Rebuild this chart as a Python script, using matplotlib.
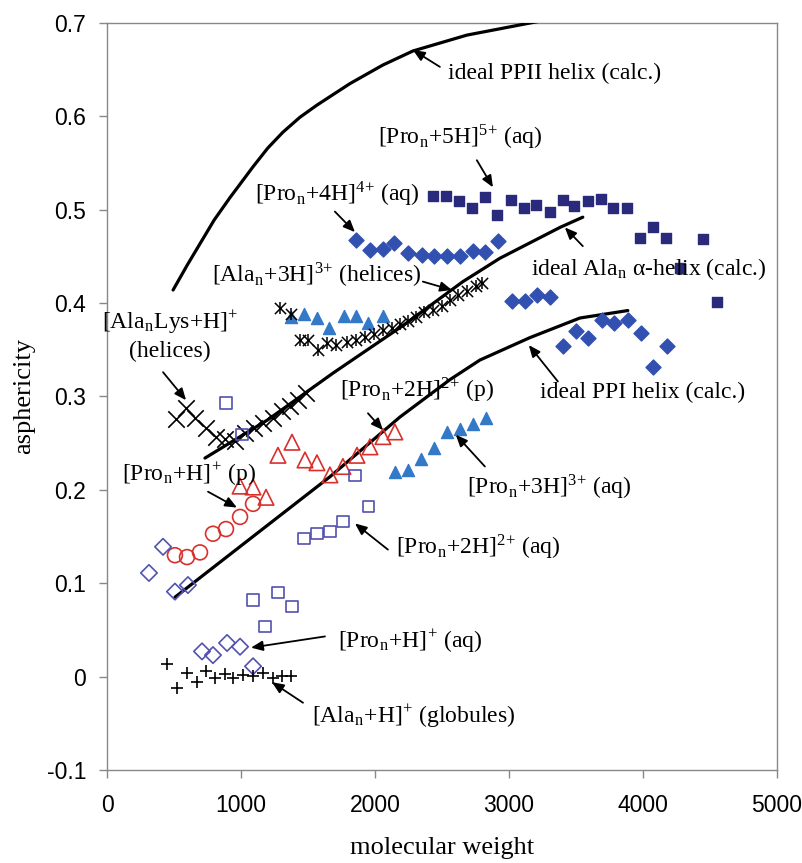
import numpy as np
import matplotlib.pyplot as plt

plt.rcParams['font.family'] = ['Liberation Sans', 'DejaVu Sans']
plt.rcParams['mathtext.fontset'] = 'stix'

# ---------------- data (molecular weight, asphericity)
ppii_x = [493, 600, 700, 800, 918, 1090, 1200, 1313, 1440, 1567, 1813, 2060, 2284, 2687, 3269, 3600]
ppii_y = [0.414, 0.441, 0.465, 0.489, 0.513, 0.546, 0.566, 0.583, 0.599, 0.612, 0.635, 0.655, 0.670,
          0.687, 0.703, 0.711]

alpha_x = [731, 1200, 1687, 2200, 2657, 2933, 3381, 3552]
alpha_y = [0.234, 0.275, 0.325, 0.375, 0.423, 0.448, 0.481, 0.492]

ppi_x = [507, 1000, 1664, 2187, 2560, 2784, 3157, 3530, 3888]
ppi_y = [0.085, 0.140, 0.214, 0.278, 0.318, 0.339, 0.363, 0.384, 0.392]

pro5_x = [2433, 2530, 2627, 2724, 2821, 2910, 3015, 3112, 3201, 3306, 3403, 3485,
          3590, 3687, 3776, 3881, 3978, 4075, 4172, 4276, 4448, 4552]
pro5_y = [0.515, 0.515, 0.509, 0.502, 0.514, 0.494, 0.510, 0.502, 0.505, 0.498, 0.510, 0.504,
          0.509, 0.512, 0.502, 0.502, 0.470, 0.482, 0.470, 0.438, 0.469, 0.401]

pro4_x = [1858, 1963, 2060, 2142, 2246, 2351, 2440, 2537, 2634, 2731, 2821, 2918,
          3022, 3119, 3209, 3306, 3403, 3500, 3590, 3694, 3784, 3888, 3985, 4075, 4179]
pro4_y = [0.468, 0.457, 0.458, 0.464, 0.454, 0.451, 0.450, 0.450, 0.450, 0.456, 0.455, 0.466,
          0.402, 0.402, 0.409, 0.406, 0.354, 0.370, 0.363, 0.382, 0.379, 0.382, 0.368, 0.332, 0.354]

pro3_x = [1373, 1470, 1567, 1657, 1769, 1858, 1948, 2060,
          2149, 2246, 2343, 2440, 2537, 2634, 2731, 2828]
pro3_y = [0.385, 0.388, 0.384, 0.373, 0.386, 0.386, 0.379, 0.386,
          0.219, 0.221, 0.233, 0.245, 0.262, 0.265, 0.271, 0.277]

ala3_x = [1291, 1373, 1440, 1500, 1575, 1642, 1709, 1791, 1858, 1925, 1993, 2060,
          2127, 2187, 2246, 2306, 2366, 2433, 2500, 2560, 2619, 2687, 2754, 2799]
ala3_y = [0.395, 0.388, 0.361, 0.361, 0.350, 0.357, 0.355, 0.358, 0.361, 0.364, 0.367, 0.371,
          0.373, 0.378, 0.381, 0.385, 0.390, 0.393, 0.397, 0.403, 0.409, 0.413, 0.418, 0.422]

alalys_x = [515, 590, 657, 739, 813, 881, 955, 1030, 1097, 1164, 1239, 1306, 1366, 1425, 1485]
alalys_y = [0.276, 0.288, 0.277, 0.266, 0.257, 0.254, 0.252, 0.261, 0.266, 0.272, 0.277,
            0.284, 0.290, 0.296, 0.304]

pro2p_x = [993, 1090, 1187, 1276, 1381, 1478, 1567, 1664, 1761, 1866, 1963, 2060, 2149]
pro2p_y = [0.204, 0.203, 0.192, 0.237, 0.251, 0.232, 0.229, 0.216, 0.225, 0.237, 0.246, 0.257, 0.262]

pro1p_x = [507, 597, 694, 791, 888, 993, 1090]
pro1p_y = [0.130, 0.128, 0.133, 0.153, 0.158, 0.171, 0.185]

pro2aq_x = [888, 1007, 1470, 1567, 1664, 1761, 1851, 1955, 1090, 1276, 1381, 1179]
pro2aq_y = [0.293, 0.259, 0.148, 0.153, 0.155, 0.166, 0.215, 0.182, 0.082, 0.090, 0.075, 0.054]

pro1aq_x = [313, 418, 507, 604, 709, 791, 896, 993, 1090]
pro1aq_y = [0.111, 0.139, 0.091, 0.098, 0.027, 0.023, 0.036, 0.032, 0.011]

alah_x = [448, 522, 597, 672, 739, 806, 881, 940, 1015, 1090, 1164, 1239, 1306, 1373]
alah_y = [0.014, -0.012, 0.004, -0.006, 0.006, -0.002, 0.003, -0.002, 0.002, 0.001, 0.004,
          -0.002, 0.001, 0.001]

yticks = [-0.1, 0, 0.1, 0.2, 0.3, 0.4, 0.5, 0.6, 0.7]
ytick_labels = ['-0.1', '0', '0.1', '0.2', '0.3', '0.4', '0.5', '0.6', '0.7']
xticks = [0, 1000, 2000, 3000, 4000, 5000]

# ---------------- figure
fig = plt.figure(figsize=(8.03, 8.63), dpi=100)
ax = fig.add_axes([0.1333, 0.1078, 0.834, 0.8656])

# calculated curves
for cx, cy in [(ppii_x, ppii_y), (alpha_x, alpha_y), (ppi_x, ppi_y)]:
    ax.plot(cx, cy, color='black', lw=2.3, zorder=3, solid_capstyle='round',
            solid_joinstyle='round')

navy = '#2a2a7c'
blue = '#3150b0'
lblue = '#3478c8'
red = '#d8302c'
violet = '#5252b0'

ax.scatter(pro5_x, pro5_y, marker='s', s=45, color=navy, zorder=4)
ax.scatter(pro4_x, pro4_y, marker='D', s=58, color=blue, zorder=4)
ax.scatter(pro3_x, pro3_y, marker='^', s=75, color=lblue, zorder=4)
ax.scatter(ala3_x, ala3_y, marker='x', s=65, color='black', lw=1.1, zorder=4)
ax.scatter(ala3_x, ala3_y, marker='|', s=85, color='black', lw=1.1, zorder=4)
ax.scatter(alalys_x, alalys_y, marker='x', s=140, color='black', lw=1.2, zorder=4)
ax.scatter(pro2p_x, pro2p_y, marker='^', s=125, facecolors='none', edgecolors=red, lw=1.2, zorder=4)
ax.scatter(pro1p_x, pro1p_y, marker='o', s=115, facecolors='none', edgecolors=red, lw=1.2, zorder=4)
ax.scatter(pro2aq_x, pro2aq_y, marker='s', s=65, facecolors='none', edgecolors=violet, lw=1.2, zorder=4)
ax.scatter(pro1aq_x, pro1aq_y, marker='D', s=70, facecolors='none', edgecolors=violet, lw=1.2, zorder=4)
ax.scatter(alah_x, alah_y, marker='+', s=85, color='black', lw=1.2, zorder=4)

# ---------------- labels with arrows: (text, text pos, arrow tail, arrow head)
R = r'\mathregular'
notes = [
    ('ideal PPII helix (calc.)', (2545, 0.646), (2485, 0.653), (2284, 0.671)),
    (r'[Pro$_{%s{n}}$+5H]$^{%s{5{+}}}$ (aq)' % (R, R), (2022, 0.578), (2761, 0.553), (2881, 0.524)),
    (r'[Pro$_{%s{n}}$+4H]$^{%s{4{+}}}$ (aq)' % (R, R), (1104, 0.516), (1701, 0.498), (1851, 0.476)),
    (r'ideal Ala$_{%s{n}}$ α-helix (calc.)' % R, (3164, 0.436), (3552, 0.461), (3418, 0.481)),
    (r'[Ala$_{%s{n}}$+3H]$^{%s{3{+}}}$ (helices)' % (R, R), (784, 0.430), (2358, 0.423), (2575, 0.414)),
    (r'[Pro$_{%s{n}}$+2H]$^{%s{2{+}}}$ (p)' % (R, R), (1739, 0.307), (1948, 0.282), (2060, 0.264)),
    ('ideal PPI helix (calc.)', (3231, 0.304), (3366, 0.316), (3149, 0.355)),
    (r'[Pro$_{%s{n}}$+H]$^{%s{{+}}}$ (p)' % (R, R), (112, 0.217), (754, 0.198), (970, 0.181)),
    (r'[Pro$_{%s{n}}$+3H]$^{%s{3{+}}}$ (aq)' % (R, R), (2687, 0.203), (2821, 0.225), (2604, 0.259)),
    (r'[Pro$_{%s{n}}$+2H]$^{%s{2{+}}}$ (aq)' % (R, R), (2157, 0.138), (2097, 0.136), (1851, 0.164)),
    (r'[Pro$_{%s{n}}$+H]$^{%s{{+}}}$ (aq)' % (R, R), (1724, 0.038), (1627, 0.043), (1075, 0.031)),
    (r'[Ala$_{%s{n}}$+H]$^{%s{{+}}}$ (globules)' % (R, R), (1530, -0.042), (1463, -0.028), (1231, -0.006)),
]
for txt, tpos, tail, head in notes:
    ax.text(tpos[0], tpos[1], txt, family='Liberation Serif', fontsize=17,
            ha='left', va='center', zorder=5)
    ax.annotate('', xy=head, xytext=tail,
                arrowprops=dict(arrowstyle='-|>,head_length=0.7,head_width=0.3',
                                color='black', lw=1.3, shrinkA=0, shrinkB=0), zorder=5)

ax.text(470, 0.366, '[Ala$_{%s{n}}$Lys+H]$^{%s{{+}}}$\n(helices)' % (R, R),
        family='Liberation Serif', fontsize=17, ha='center', va='center',
        linespacing=1.3, zorder=5)
ax.annotate('', xy=(590, 0.296), xytext=(418, 0.326),
            arrowprops=dict(arrowstyle='-|>,head_length=0.7,head_width=0.3',
                            color='black', lw=1.3, shrinkA=0, shrinkB=0), zorder=5)

# ---------------- axes styling
ax.set_xlim(0, 5000)
ax.set_ylim(-0.1, 0.7)
ax.set_xticks(xticks)
ax.set_xticklabels([str(v) for v in xticks])
ax.set_yticks(yticks)
ax.set_yticklabels(ytick_labels)
ax.tick_params(axis='both', direction='out', length=6, width=1, color='#888888',
               labelsize=16.5, labelcolor='black')
ax.tick_params(axis='y', pad=9)
ax.tick_params(axis='x', pad=11)
for sp in ax.spines.values():
    sp.set_color('#888888')
    sp.set_linewidth(1.0)

ax.set_xlabel('molecular weight', family='Liberation Serif', fontsize=19)
ax.set_ylabel('asphericity', family='Liberation Serif', fontsize=19)
ax.xaxis.set_label_coords(0.5, -0.09)
ax.yaxis.set_label_coords(-0.108, 0.5)

fig.savefig('out.png', dpi=100)
